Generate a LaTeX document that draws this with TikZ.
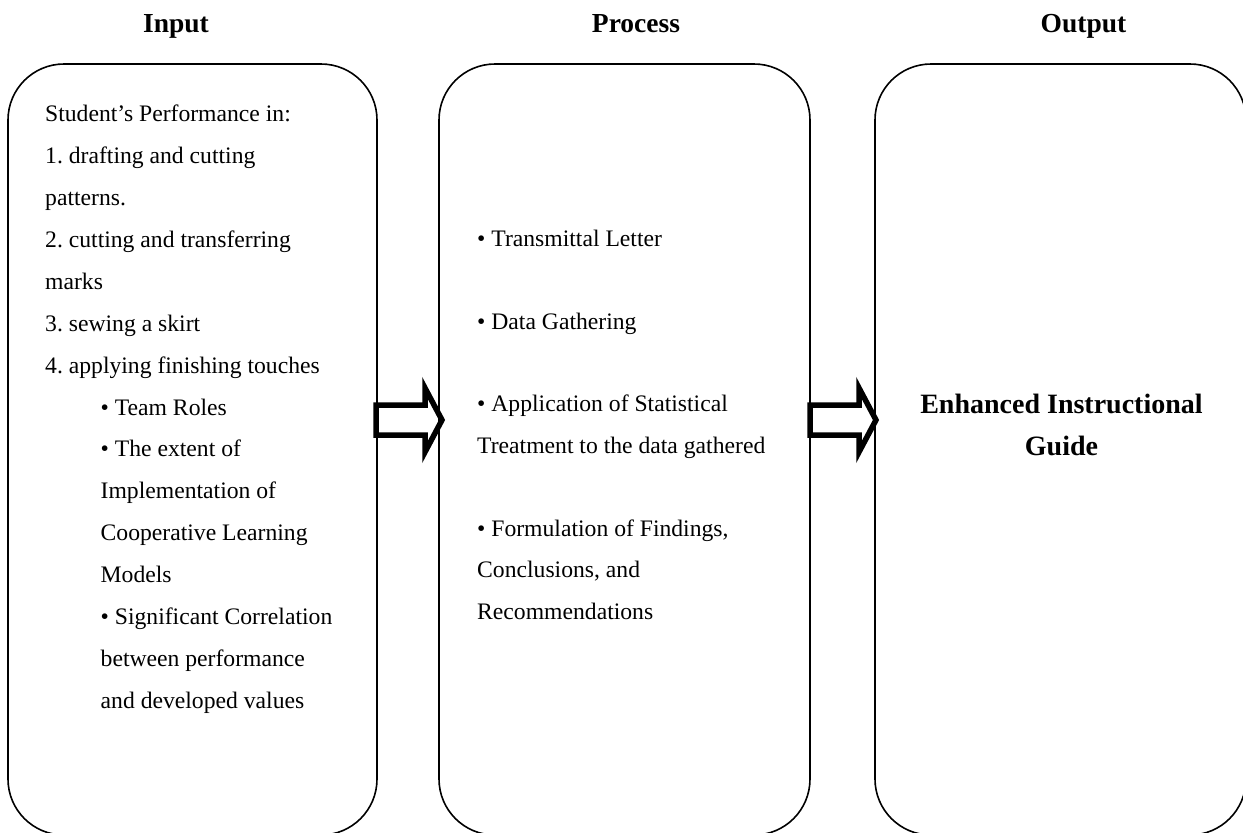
\documentclass[tikz,border=0pt]{standalone}
\usepackage{fontspec}
\setmainfont{Liberation Serif}
\frenchspacing
\begin{document}
\begin{tikzpicture}[x=1pt,y=-1pt,
  box/.style={draw, line width=1.6pt, rounded corners=56pt, inner sep=0pt},
  bodytxt/.style={anchor=base west, inner sep=0pt, font=\fontsize{23.65}{28}\selectfont},
  outtxt/.style={anchor=base, inner sep=0pt, font=\bfseries\fontsize{28}{33}\selectfont},
  hdr/.style={anchor=base, inner sep=0pt, font=\bfseries\fontsize{27.5}{33}\selectfont},
  blockarrow/.style={draw, line width=5.5pt, miter limit=10}]
\useasboundingbox (0,0) rectangle (1243,833);
\clip (0,0) rectangle (1243,833);

% headers
\node[hdr] (hin)  at (176,32)    {Input};
\node[hdr] (hpro) at (636,32)    {Process};
\node[hdr] (hout) at (1083.5,32) {Output};

% boxes
\node[box, minimum width=369pt, minimum height=771pt] (inbox)  at (192.5,449.5) {};
\node[box, minimum width=371pt, minimum height=771pt] (probox) at (624.5,449.5) {};
\node[box, minimum width=371pt, minimum height=771pt] (outbox) at (1060.5,449.5) {};

% block arrows
\draw[blockarrow] (376,405) -- (425,405) -- (425,388) -- (442,420) -- (425,452) -- (425,435) -- (376,435) -- cycle;
\draw[blockarrow] (810,405) -- (859,405) -- (859,388) -- (876,420) -- (859,452) -- (859,435) -- (810,435) -- cycle;

% input text
\foreach \t [count=\i from 0] in {Student’s Performance in:, 1. drafting and cutting, patterns., 2. cutting and transferring, marks, 3. sewing a skirt, 4. applying finishing touches}
  \node[bodytxt] (inA\i) at (45,121.7+41.9*\i) {\t};
\foreach \t [count=\i from 7] in {• Team Roles, • The extent of, Implementation of, Cooperative Learning, Models, • Significant Correlation, between performance, and developed values}
  \node[bodytxt] (inB\i) at (100.5,121.7+41.9*\i) {\t};

% process text
\node[bodytxt] (p1) at (477,246)   {• Transmittal Letter};
\node[bodytxt] (p2) at (477,329)   {• Data Gathering};
\node[bodytxt] (p3) at (477,411.6) {• Application of Statistical};
\node[bodytxt] (p4) at (477,453)   {Treatment to the data gathered};
\node[bodytxt] (p5) at (477,536)   {• Formulation of Findings,};
\node[bodytxt] (p6) at (477,577.6) {Conclusions, and};
\node[bodytxt] (p7) at (477,619)   {Recommendations};

% output text
\node[outtxt] (o1) at (1061.5,413) {Enhanced Instructional};
\node[outtxt] (o2) at (1061.5,455) {Guide};
\end{tikzpicture}
\end{document}
